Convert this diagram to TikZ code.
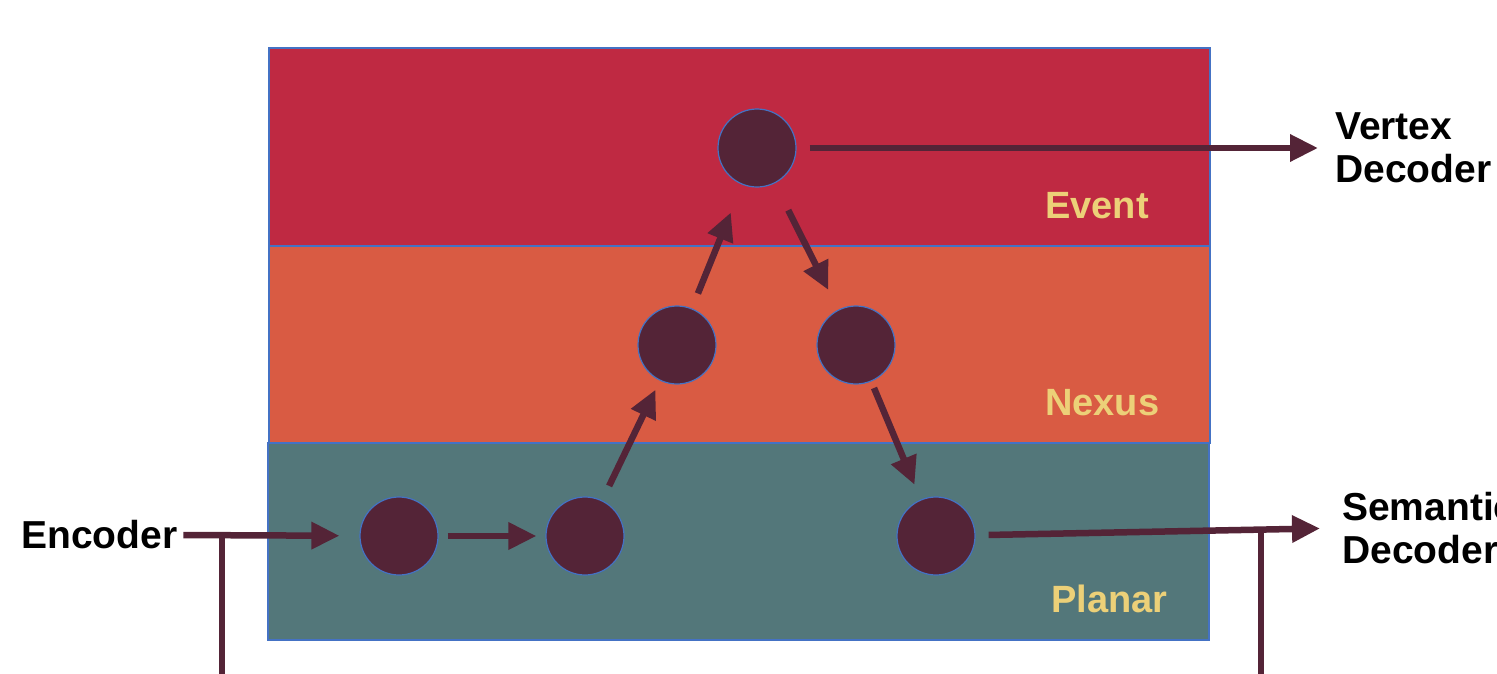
\documentclass[tikz,border=0pt]{standalone}
\usepackage{fontspec}
\setmainfont{Liberation Sans}
\usetikzlibrary{arrows.meta}
\definecolor{plum}{HTML}{542437}
\definecolor{eventred}{HTML}{BF2942}
\definecolor{nexusorange}{HTML}{D95B43}
\definecolor{planarteal}{HTML}{53777A}
\definecolor{sand}{HTML}{ECD078}
\definecolor{edgeblue}{HTML}{4472C4}
\begin{document}
\begin{tikzpicture}[x=1pt,y=-1pt,
  band/.style={draw=edgeblue,line width=1.2pt},
  vtx/.style={circle,fill=plum,draw=edgeblue,line width=1.2pt,minimum size=78pt,inner sep=0pt},
  conn/.style={draw=plum,line width=6.5pt,-{Triangle[length=28pt,width=26pt]}},
  stem/.style={draw=plum,line width=6.5pt},
  lbl/.style={font=\fontsize{39}{43}\selectfont\bfseries,text=black,inner sep=0pt,align=left},
  layer/.style={font=\fontsize{38}{42}\selectfont\bfseries,text=sand,inner sep=0pt}]
\useasboundingbox (0,0) rectangle (1497,673);
\clip (0,0) rectangle (1497,673);
% bands
\fill[eventred] (269,48) rectangle (1210,246);
\fill[nexusorange] (269,246) rectangle (1210,443);
\fill[planarteal] (268,443) rectangle (1209,640);
\draw[band] (269,48) rectangle (1210,246);
\draw[band] (269,246) rectangle (1210,443);
\draw[band] (268,443) rectangle (1209,640);
% layer labels
\node[layer,anchor=base west] (lev) at (1045,218) {Event};
\node[layer,anchor=base west] (lnx) at (1045,415) {Nexus};
\node[layer,anchor=base west] (lpl) at (1051,612) {Planar};
% vertices
\node[vtx] (E1) at (757,148) {};
\node[vtx] (N1) at (677,345) {};
\node[vtx] (N2) at (856,345) {};
\node[vtx] (P1) at (399,536) {};
\node[vtx] (P2) at (585,536) {};
\node[vtx] (P3) at (936,536) {};
% outer labels
\node[lbl,anchor=west] (enc) at (21,535) {Encoder};
\node[lbl,anchor=west] (vdec) at (1335,148) {Vertex\\Decoder};
\node[lbl,anchor=west] (sdec) at (1342,528) {Semantic\\Decoder};
% junction coordinates
\coordinate (encj) at (222,536);
\coordinate (encb) at (222,680);
\coordinate (semj) at (1261,530);
\coordinate (semb) at (1261,680);
% connectors
\draw[stem] (encj) -- (encb);
\draw[stem] (semj) -- (semb);
\draw[conn,shorten <=6pt,shorten >=20pt] (enc.east) -- (P1);
\draw[conn,shorten <=9pt,shorten >=9pt] (P1) -- (P2);
\draw[conn,shorten <=16pt,shorten >=10pt] (P2) -- (N1);
\draw[conn,shorten <=16pt,shorten >=30pt] (N1) -- (E1);
\draw[conn,shorten <=30pt,shorten >=22pt] (E1) -- (N2);
\draw[conn,shorten <=7pt,shorten >=16pt] (N2) -- (P3);
\draw[conn,shorten <=13pt,shorten >=17pt] (E1) -- (vdec.west);
\draw[conn,shorten <=13pt,shorten >=22pt] (P3) -- (sdec.west);
\end{tikzpicture}
\end{document}
